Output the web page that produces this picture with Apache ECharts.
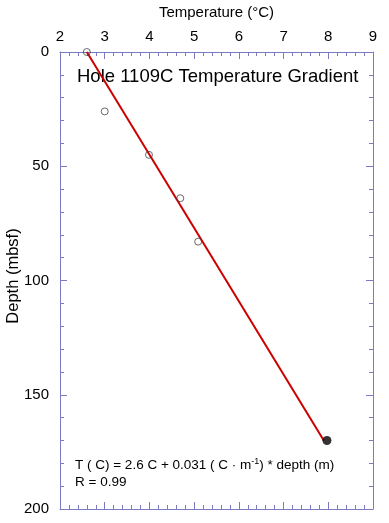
<!DOCTYPE html>
<html>
<head>
<meta charset="utf-8">
<script src="https://cdn.jsdelivr.net/npm/echarts@6/dist/echarts.min.js"></script>
<style>
  html, body { margin: 0; padding: 0; background: #fff; }
  #chart { width: 389px; height: 523px; }
</style>
</head>
<body>
<div id="chart"></div>
<script>
// measured points (temperature °C, depth mbsf)
const tempOpen = [2.6, 3.0, 3.99, 4.69, 5.09]
const depthOpen = [0, 26, 45, 64, 83]
const tempFilled = [7.97]
const depthFilled = [170]
// fit line end points
const fitTemp = [2.6, 7.9]
const fitDepth = [0, 170]

const axisColor = '#7b7bc4'
const font = 'Liberation Sans, Arial, sans-serif'

let chart = echarts.init(document.getElementById('chart'))

let baseX = {
  type: 'value', min: 2, max: 9, interval: 1,
  axisLine: { show: true, onZero: false, lineStyle: { color: axisColor, width: 1 } },
  axisTick: { show: true, inside: true, length: 7, lineStyle: { color: axisColor } },
  minorTick: { show: true, splitNumber: 5, length: 4, lineStyle: { color: axisColor } },
  splitLine: { show: false }
}
let baseY = {
  type: 'value', min: 0, max: 200, interval: 50, inverse: true,
  axisLine: { show: true, onZero: false, lineStyle: { color: axisColor, width: 1 } },
  axisTick: { show: true, inside: true, length: 7, lineStyle: { color: axisColor } },
  minorTick: { show: true, splitNumber: 5, length: 4, lineStyle: { color: axisColor } },
  splitLine: { show: false }
}

chart.setOption({
  animation: false,
  backgroundColor: '#fff',
  grid: { left: 60, top: 52, width: 313, height: 457, containLabel: false, outerBoundsMode: 'none' },
  xAxis: [
    Object.assign({}, baseX, {
      position: 'top',
      name: 'Temperature (°C)', nameLocation: 'middle', nameGap: 32,
      nameTextStyle: { color: '#000', fontSize: 15, fontFamily: font },
      axisLabel: { color: '#000', fontSize: 15, fontFamily: font, margin: 8 }
    }),
    Object.assign({}, baseX, { position: 'bottom', axisLabel: { show: false } })
  ],
  yAxis: [
    Object.assign({}, baseY, {
      position: 'left',
      axisLabel: { color: '#000', fontSize: 15, fontFamily: font, margin: 11 }
    }),
    Object.assign({}, baseY, { position: 'right', axisLabel: { show: false } })
  ],
  graphic: [
    {
      type: 'text', x: 13, y: 276, rotation: Math.PI / 2,
      style: {
        text: 'Depth (mbsf)', fill: '#000', font: '16.5px ' + font,
        align: 'center', verticalAlign: 'middle'
      }
    },
    {
      type: 'text', left: 77, top: 67,
      style: { text: 'Hole 1109C Temperature Gradient', fill: '#000', font: '18.5px ' + font }
    },
    {
      type: 'text', left: 75, top: 457,
      style: {
        text: '{n|T ( C) = 2.6 C + 0.031 ( C · m}{s|-1}{n|) * depth (m)}\n{n|R = 0.99}',
        fill: '#000',
        rich: {
          n: { fontSize: 13.5, fontFamily: font, lineHeight: 17, fill: '#000' },
          s: { fontSize: 9, fontFamily: font, verticalAlign: 'top', lineHeight: 17, padding: [0, 0, 6, 0], fill: '#000' }
        }
      }
    }
  ],
  series: [
    {
      type: 'line',
      data: fitTemp.map((t, i) => [t, fitDepth[i]]),
      symbol: 'none',
      lineStyle: { color: '#cc0000', width: 2 },
      z: 2
    },
    {
      type: 'scatter',
      data: tempOpen.map((t, i) => [t, depthOpen[i]]),
      symbol: 'circle', symbolSize: 7,
      itemStyle: { color: 'rgba(0,0,0,0)', borderColor: '#444', borderWidth: 1 },
      z: 3
    },
    {
      type: 'scatter',
      data: tempFilled.map((t, i) => [t, depthFilled[i]]),
      symbol: 'circle', symbolSize: 9,
      itemStyle: { color: '#000' },
      z: 3
    }
  ]
})
</script>
</body>
</html>
